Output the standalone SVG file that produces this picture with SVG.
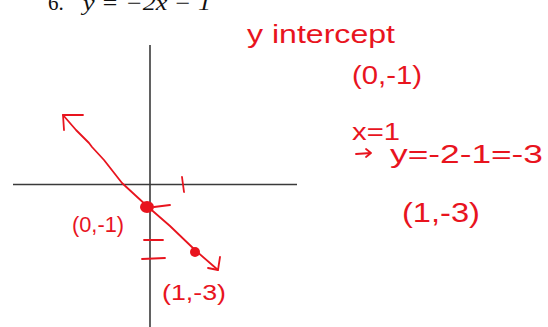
<svg xmlns="http://www.w3.org/2000/svg" width="548" height="327" viewBox="0 0 548 327">
<style>
.ax{stroke:#3a3a3a;stroke-width:1.6;fill:none}
.ink{stroke:#e8141e;stroke-width:1.8;fill:none;stroke-linecap:round;stroke-linejoin:round}
.hw{fill:#e8141e;font-family:"Liberation Sans","DejaVu Sans",sans-serif}
.title{fill:#111;font-family:"Liberation Serif",serif;font-size:21px}
</style>
<rect width="548" height="327" fill="#fff"/>
<text class="title" x="48" y="10">6.</text>
<text class="title" x="83" y="10" font-style="italic" textLength="128" lengthAdjust="spacingAndGlyphs">y = −2x − 1</text>
<g id="axes">
<line class="ax" x1="150" y1="45" x2="150" y2="327"/>
<line class="ax" x1="13" y1="184.5" x2="297" y2="184.5"/>
</g>
<g id="graph">
<path class="ink" d="M63,115 L76,130 L89,143 L92,147 L104,160 L122,183 L135,195 L147,206 L170,226 L195,250 L218,270"/>
<path class="ink" d="M83,115 L63,115 L64,130"/>
<path class="ink" d="M208,268 L218,270 L220,257"/>
<path class="ink" d="M182,177 L184,192"/>
<path class="ink" d="M154,207 L170,205"/>
<path class="ink" d="M144,240 L163,240"/>
<path class="ink" d="M142,259 L165,258"/>
<ellipse cx="147" cy="207" rx="7" ry="6" fill="#e8141e"/>
<ellipse cx="195" cy="252" rx="5" ry="5" fill="#e8141e"/>
<text class="hw" x="72" y="232" font-size="22" textLength="52" lengthAdjust="spacingAndGlyphs">(0,-1)</text>
<text class="hw" x="162" y="300" font-size="22" textLength="64" lengthAdjust="spacingAndGlyphs">(1,-3)</text>
</g>
<g id="work">
<text class="hw" x="247" y="43" font-size="26" textLength="148" lengthAdjust="spacingAndGlyphs">y intercept</text>
<text class="hw" x="352" y="84" font-size="26" textLength="70" lengthAdjust="spacingAndGlyphs">(0,-1)</text>
<text class="hw" x="352" y="140" font-size="24" textLength="48" lengthAdjust="spacingAndGlyphs">x=1</text>
<path class="ink" d="M356,154 L371,153 M366,149 L371,153 L366,157"/>
<text class="hw" x="390" y="163" font-size="26" textLength="153" lengthAdjust="spacingAndGlyphs">y=-2-1=-3</text>
<text class="hw" x="402" y="222" font-size="28" textLength="78" lengthAdjust="spacingAndGlyphs">(1,-3)</text>
</g>
</svg>
